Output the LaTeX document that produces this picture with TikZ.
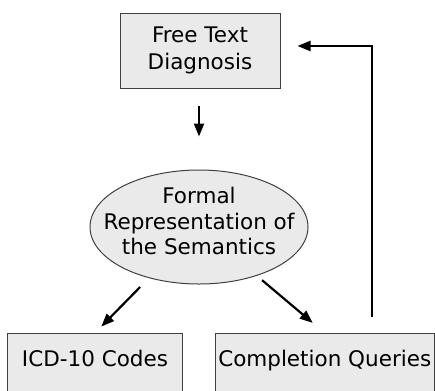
\documentclass[tikz,border=0pt]{standalone}
\usepackage{fontspec}
\setmainfont{DejaVu Sans}
\usetikzlibrary{arrows.meta,shapes.geometric}
\definecolor{boxgray}{HTML}{EAEAEA}
\begin{document}
\begin{tikzpicture}[x=1bp,y=-1bp,
	box/.style={draw=black!75,line width=1bp,fill=boxgray,align=center,font=\fontsize{21.5bp}{27bp}\selectfont},
	oval/.style={box,ellipse,inner sep=0pt},
	arr/.style={line width=2.2bp,-{Triangle[length=13bp,width=10bp]}}]
	\useasboundingbox (0,0) rectangle (435,390);
	\clip (0,0) rectangle (435,390);
	\node[box,minimum width=160bp,minimum height=75bp,inner sep=0pt] (ftd) at (200,50.5) {Free Text\\Diagnosis};
	\node[oval,minimum width=218bp,minimum height=114bp] (sem) at (199,227) {};
	\node[font=\fontsize{21.5bp}{25.5bp}\selectfont,align=center] (semtxt) at (199,221) {Formal\\Representation of\\the Semantics};
	\node[box,anchor=north,minimum width=174bp,inner ysep=0pt,text height=33bp,text depth=40bp] (icd) at (95,333) {ICD-10 Codes};
	\node[box,anchor=north,minimum width=219.5bp,inner xsep=1bp,inner ysep=0pt,text height=33bp,text depth=40bp] (cq) at (324.75,333) {Completion Queries};
	\coordinate (back) at (372,317);
	% arrows
	\draw[arr,shorten <=17bp,shorten >=33bp] (ftd.south -| 199,0) -- (sem.north -| 199,0);
	\draw[arr,shorten <=84bp,shorten >=9bp] (sem.center) -- (icd.north);
	\draw[arr,shorten <=82.5bp,shorten >=15.7bp] (sem.center) -- (cq.north);
	\draw[arr,shorten >=17bp] (back) |- ([yshift=4.5bp]ftd.east);
\end{tikzpicture}
\end{document}
